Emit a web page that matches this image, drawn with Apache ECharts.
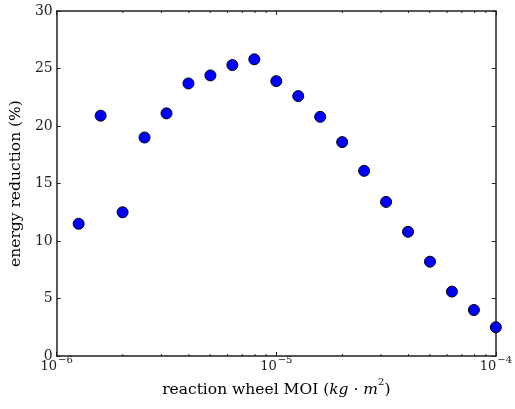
<!DOCTYPE html>
<html>
<head>
<meta charset="utf-8">
<script src="https://cdn.jsdelivr.net/npm/echarts@6/dist/echarts.min.js"></script>
<style>html,body{margin:0;padding:0;background:#fff}#c{width:515px;height:409px}</style>
</head>
<body>
<div id="c"></div>
<script>
const moiExponents = [-5.9,-5.8,-5.7,-5.6,-5.5,-5.4,-5.3,-5.2,-5.1,-5.0,-4.9,-4.8,-4.7,-4.6,-4.5,-4.4,-4.3,-4.2,-4.1,-4.0];
const energyReduction = [11.5,20.9,12.5,19.0,21.1,23.7,24.4,25.3,25.8,23.9,22.6,20.8,18.6,16.1,13.4,10.8,8.2,5.6,4.0,2.5];
const yTicks = [0,5,10,15,20,25,30];
const minorTickValues = [2e-6,3e-6,4e-6,5e-6,6e-6,7e-6,8e-6,9e-6,2e-5,3e-5,4e-5,5e-5,6e-5,7e-5,8e-5,9e-5];

const points = moiExponents.map((e,i)=>[Math.pow(10,e), energyReduction[i]]);
const FONT = 'DejaVu Serif';
const axisColor = '#222';
const chart = echarts.init(document.getElementById('c'), null, {renderer:'canvas'});

function supLabel(v){
  const e = Math.round(Math.log10(v));
  return '{b|10}{s|\u2212' + Math.abs(e) + '}';
}

chart.setOption({
  animation:false,
  grid:{left:53,right:15,top:11,bottom:53,containLabel:false},
  xAxis:[{
    type:'log', logBase:10, min:1e-6, max:1e-4, position:'bottom',
    axisLine:{show:true,onZero:false,lineStyle:{color:axisColor,width:1.5}},
    axisTick:{show:true,inside:true,length:4,lineStyle:{color:axisColor}},
    splitLine:{show:false},
    axisLabel:{
      formatter:supLabel, margin:-1,
      rich:{
        b:{fontFamily:FONT,fontSize:13,color:'#222',lineHeight:18,verticalAlign:'bottom'},
        s:{fontFamily:FONT,fontSize:10,color:'#222',verticalAlign:'top',lineHeight:18,padding:[0,0,0,1]}
      }
    },
    name:'{n|reaction wheel MOI (}{i|kg \u00b7 m}{s|2}{n|)}',
    nameLocation:'middle', nameGap:9,
    nameTextStyle:{
      rich:{
        n:{fontFamily:FONT,fontSize:15.5,color:'#000',lineHeight:20,verticalAlign:'bottom'},
        i:{fontFamily:FONT,fontSize:15.5,fontStyle:'italic',color:'#000',lineHeight:20,verticalAlign:'bottom'},
        s:{fontFamily:FONT,fontSize:10,color:'#000',lineHeight:20,verticalAlign:'top'}
      }
    }
  },{
    type:'log', logBase:10, min:1e-6, max:1e-4, position:'top',
    axisLine:{show:true,onZero:false,lineStyle:{color:axisColor,width:1.5}},
    axisTick:{show:true,inside:true,length:4,lineStyle:{color:axisColor}},
    axisLabel:{show:false}, splitLine:{show:false}
  }],
  yAxis:[{
    type:'value', min:0, max:30, interval:5, position:'left',
    axisLine:{show:true,onZero:false,lineStyle:{color:axisColor,width:1.5}},
    axisTick:{show:true,inside:true,length:4,lineStyle:{color:axisColor}},
    splitLine:{show:false},
    axisLabel:{fontFamily:FONT,fontSize:14,color:'#222',margin:4,
      formatter:(v)=> yTicks.includes(v)? String(v):''},
    name:'energy reduction (%)', nameLocation:'middle', nameGap:21,
    nameTextStyle:{fontFamily:FONT,fontSize:15.5,color:'#000'}
  },{
    type:'value', min:0, max:30, interval:5, position:'right',
    axisLine:{show:true,onZero:false,lineStyle:{color:axisColor,width:1.5}},
    axisTick:{show:true,inside:true,length:4,lineStyle:{color:axisColor}},
    axisLabel:{show:false}, splitLine:{show:false}
  }],
  series:[{
    type:'custom', xAxisIndex:0, yAxisIndex:0, silent:true, clip:false,
    data: minorTickValues.map(v=>[v]),
    renderItem:(params,api)=>{
      const b = api.coord([api.value(0),0]);
      const t = api.coord([api.value(0),30]);
      return {type:'group',children:[
        {type:'line',shape:{x1:b[0],y1:b[1],x2:b[0],y2:b[1]-2},style:{stroke:axisColor,lineWidth:1}},
        {type:'line',shape:{x1:t[0],y1:t[1],x2:t[0],y2:t[1]+2},style:{stroke:axisColor,lineWidth:1}}
      ]};
    }
  },{
    type:'scatter', xAxisIndex:0, yAxisIndex:0, data:points,
    symbol:'circle', symbolSize:11, clip:false,
    itemStyle:{color:'#0000ff',borderColor:'#000',borderWidth:1,opacity:1}
  }]
});
</script>
</body>
</html>
